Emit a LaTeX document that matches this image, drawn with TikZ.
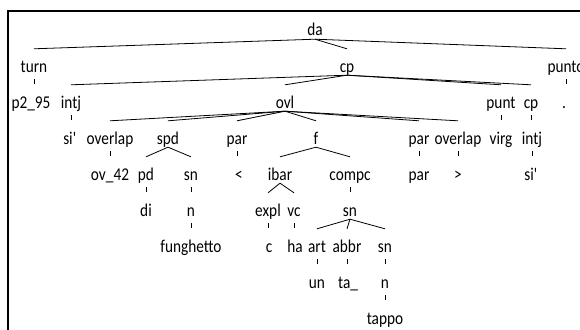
\documentclass[tikz,border=0pt]{standalone}
\usepackage{fontspec}
\setmainfont{Carlito}[FakeStretch=0.85]

\begin{document}
\begin{tikzpicture}[x=1pt, y=-1pt,
  word/.style = {anchor=base, inner sep=0pt, font=\fontsize{18}{18}\selectfont,
    text height=23pt, text depth=3pt},
  branch/.style = {draw, line width=0.8pt},
  tick/.style = {draw, line width=0.8pt, shorten <=4pt, shorten >=1pt}
  ]
  \useasboundingbox (0,0) rectangle (580,329);
  \draw[line width=2pt] (8,11) rectangle (600,345);

  % level 0 - 1
  \node[word] (da) at (315,36) {da};
  \node[word] (turn) at (34,72) {turn};
  \node[word] (cp) at (347,72) {cp};
  \node[word] (punto) at (566,72) {punto};
  % level 2
  \node[word] (p295) at (31,108) {p2\_95};
  \node[word] (intj) at (71,108) {intj};
  \node[word] (ovl) at (285,108) {ovl};
  \node[word] (punt) at (501,108) {punt};
  \node[word] (cpb) at (531,108) {cp};
  \node[word] (dot) at (564,108) {.};
  % level 3
  \node[word] (si) at (70,144) {si\textquotesingle};
  \node[word] (overlap) at (110,144) {overlap};
  \node[word] (spd) at (168,144) {spd};
  \node[word] (par) at (237,144) {par};
  \node[word] (f) at (316,144) {f};
  \node[word] (parb) at (419,144) {par};
  \node[word] (overlapb) at (458,144) {overlap};
  \node[word] (virg) at (501,144) {virg};
  \node[word] (intjb) at (532,144) {intj};
  % level 4
  \node[word] (ov42) at (110,180) {ov\_42};
  \node[word] (pd) at (146,180) {pd};
  \node[word] (sn) at (191,180) {sn};
  \node[word] (lt) at (239,180) {<};
  \node[word] (ibar) at (280,180) {ibar};
  \node[word] (compc) at (350,180) {compc};
  \node[word] (parc) at (419,180) {par};
  \node[word] (gt) at (458,180) {>};
  \node[word] (sib) at (531,180) {si\textquotesingle};
  % level 5
  \node[word] (di) at (146,216) {di};
  \node[word] (n) at (191,216) {n};
  \node[word] (expl) at (268,216) {expl};
  \node[word] (vc) at (294,216) {vc};
  \node[word] (snb) at (350,216) {sn};
  % level 6 - 8
  \node[word] (funghetto) at (191,252) {funghetto};
  \node[word] (c) at (269,252) {c};
  \node[word] (ha) at (295,252) {ha};
  \node[word] (art) at (317,252) {art};
  \node[word] (abbr) at (347,252) {abbr};
  \node[word] (snc) at (385,252) {sn};
  \node[word] (un) at (317,288) {un};
  \node[word] (ta) at (348,288) {ta\_};
  \node[word] (nb) at (385,288) {n};
  \node[word] (tappo) at (385,324) {tappo};

  % edges
  \foreach \a/\b in {da/turn, da/cp, da/punto, cp/intj, cp/ovl, cp/punt, cp/cpb,
      ovl/overlap, ovl/spd, ovl/par, ovl/f, ovl/parb, ovl/overlapb,
      spd/pd, spd/sn, f/ibar, f/compc, ibar/expl, ibar/vc,
      snb/art, snb/abbr, snb/snc}
    \draw[branch] (\a.south) -- (\b.north);
  % single children hang straight down
  \foreach \a/\b in {turn/p295, punto/dot, intj/si, punt/virg, cpb/intjb,
      overlap/ov42, par/lt, parb/parc, overlapb/gt, intjb/sib,
      pd/di, sn/n, compc/snb, n/funghetto, expl/c, vc/ha,
      art/un, abbr/ta, snc/nb, nb/tappo}
    \draw[tick] (\a.south) -- (\a.south |- \b.north);
\end{tikzpicture}
\end{document}
